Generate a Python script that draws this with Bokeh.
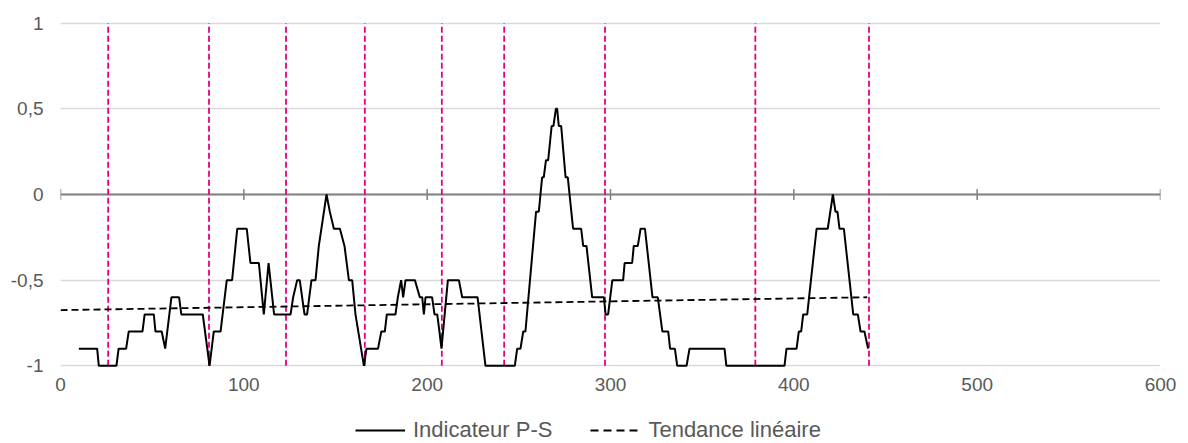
import numpy as np
from bokeh.plotting import figure
from bokeh.layouts import column
from bokeh.models import (Span, Legend, LegendItem, CustomJSTickFormatter,
                          FixedTicker, Range1d)
from bokeh.embed import file_html
from bokeh.resources import INLINE

# --- data ---
ps_x = [10, 20, 20.9, 30.5, 31.7, 35.8, 37.2, 44.7, 45.9, 50.9, 51.8, 55.2, 57.1,
        60.5, 64.7, 65.9, 77.6, 81.3, 83.6, 87.3, 90.7, 93.6, 96.4, 101.6, 103.6,
        108.2, 110.9, 113.5, 116.5, 125.5, 126.9, 129.1, 130.5, 133.1, 134.5,
        136.9, 139.1, 140.9, 145.1, 146.9, 149.1, 152.4, 154.9, 157.3, 159.1,
        160.9, 165.5, 166.9, 173.2, 175.0, 176.9, 178.0, 182.7, 184.0, 185.8,
        186.9, 188.2, 193.3, 196.0, 197.3, 198.2, 199.1, 202.7, 204.0, 205.5,
        206.7, 207.8, 211.3, 217.3, 219.1, 227.5, 231.8, 247.8, 249.1, 250.9,
        252.4, 253.6, 259.4, 260.9, 262.7, 263.6, 264.8, 266.0, 267.9, 268.9,
        270.2, 270.9, 271.8, 273.1, 275.5, 276.7, 279.6, 284.0, 285.1, 286.9,
        290.0, 296.4, 297.3, 298.7, 301.0, 306.9, 307.7, 311.8, 312.7, 314.9,
        316.4, 318.8, 322.9, 325.8, 328.3, 331.5, 332.5, 335.1, 336.4, 341.5,
        343.1, 362.2, 363.2, 394.9, 396.0, 401.5, 402.7, 404.0, 405.1, 407.3,
        412.4, 418.5, 421.3, 422.7, 423.8, 424.9, 427.3, 432.4, 434.9, 436.4,
        438.5, 440.5]
ps_y = [-0.9, -0.9, -1.0, -1.0, -0.9, -0.9, -0.8, -0.8, -0.7, -0.7, -0.8, -0.8, -0.9,
        -0.6, -0.6, -0.7, -0.7, -1.0, -0.8, -0.8, -0.5, -0.5, -0.2, -0.2, -0.4,
        -0.4, -0.7, -0.4, -0.7, -0.7, -0.6, -0.5, -0.5, -0.7, -0.7,
        -0.5, -0.5, -0.3, 0.0, -0.1, -0.2, -0.2, -0.3, -0.5, -0.5,
        -0.7, -1.0, -0.9, -0.9, -0.8, -0.8, -0.7, -0.7, -0.6, -0.5,
        -0.6, -0.5, -0.5, -0.6, -0.6, -0.7, -0.6, -0.6, -0.7, -0.7,
        -0.8, -0.9, -0.5, -0.5, -0.6, -0.6, -1.0, -1.0, -0.9, -0.9,
        -0.8, -0.8, -0.1, -0.1, 0.1, 0.1, 0.2, 0.2, 0.4, 0.4,
        0.5, 0.5, 0.4, 0.4, 0.1, 0.1, -0.2, -0.2, -0.3, -0.3,
        -0.6, -0.6, -0.7, -0.7, -0.5, -0.5, -0.4, -0.4, -0.3, -0.3,
        -0.2, -0.2, -0.6, -0.6, -0.8, -0.8, -0.9, -0.9, -1.0, -1.0,
        -0.9, -0.9, -1.0, -1.0, -0.9, -0.9, -0.8, -0.8, -0.7, -0.7,
        -0.2, -0.2, 0.0, -0.1, -0.1, -0.2, -0.2, -0.7, -0.7, -0.8,
        -0.8, -0.9]
trend_x = [0, 440]
trend_y = [-0.675, -0.60]
boundaries = [26, 81, 123, 166, 208, 242, 297, 379, 441]
x_ticks = [0, 100, 200, 300, 400, 500, 600]
y_ticks = [-1, -0.5, 0, 0.5, 1]
series_names = ["Indicateur P-S", "Tendance linéaire"]

FONT = "Liberation Sans"
TXT = "#595959"
W = 1182

p = figure(width=W, height=406,
           x_range=Range1d(x_ticks[0], x_ticks[-1]),
           y_range=Range1d(-1.01, 1.01),
           output_backend="svg", toolbar_location=None,
           min_border_left=60, min_border_right=22,
           min_border_top=21, min_border_bottom=39)
p.outline_line_color = None
p.background_fill_color = "white"

# grid
p.xgrid.grid_line_color = None
p.ygrid.ticker = FixedTicker(ticks=y_ticks)
p.ygrid.grid_line_color = "#d9d9d9"
p.ygrid.grid_line_width = 1.5

# zero axis line with ticks
p.add_layout(Span(location=0, dimension="width", line_color="#808080",
                  line_width=2, level="underlay"))
p.scatter(x=x_ticks, y=[0] * len(x_ticks), marker="dash", angle=np.pi / 2,
          size=11, line_color="#808080", line_width=1.5)

# axes
p.xaxis.ticker = FixedTicker(ticks=x_ticks)
p.xaxis.axis_line_color = None
p.xaxis.major_tick_line_color = None
p.xaxis.major_tick_out = 0
p.xaxis.major_tick_in = 0
p.xaxis.minor_tick_line_color = None
p.xaxis.major_label_text_font = FONT
p.xaxis.major_label_text_font_size = "19px"
p.xaxis.major_label_text_color = TXT
p.xaxis.major_label_standoff = 10

p.yaxis.ticker = FixedTicker(ticks=y_ticks)
p.yaxis.formatter = CustomJSTickFormatter(code="return tick.toString().replace('.', ',');")
p.yaxis.axis_line_color = None
p.yaxis.major_tick_line_color = None
p.yaxis.major_tick_out = 0
p.yaxis.major_tick_in = 0
p.yaxis.minor_tick_line_color = None
p.yaxis.major_label_text_font = FONT
p.yaxis.major_label_text_font_size = "19px"
p.yaxis.major_label_text_color = TXT
p.yaxis.major_label_standoff = 17

# pink boundaries
p.segment(x0=boundaries, y0=[y_ticks[0]] * len(boundaries),
          x1=boundaries, y1=[y_ticks[-1]] * len(boundaries),
          line_color="#e6007e", line_width=1.8, line_dash="6 3")

p.line(trend_x, trend_y, line_color="black", line_width=1.8, line_dash="7 4")
p.line(ps_x, ps_y, line_color="black", line_width=2)

# legend strip (separate figure beneath the chart); its copies of the series
# lie outside its visible range so only the legend shows
lg = figure(width=W, height=37, output_backend="svg", toolbar_location=None,
            x_range=Range1d(-3, -2), y_range=Range1d(-1, 1),
            x_axis_location=None, y_axis_location=None,
            min_border_left=0, min_border_right=0, min_border_top=0, min_border_bottom=0)
lg.outline_line_color = None
lg.grid.grid_line_color = None
r_main = lg.line(ps_x, ps_y, line_color="black", line_width=2)
r_trend = lg.line(trend_x, trend_y, line_color="black", line_width=2, line_dash="8 5")
legend = Legend(items=[LegendItem(label=series_names[0], renderers=[r_main]),
                       LegendItem(label=series_names[1], renderers=[r_trend])],
                orientation="horizontal", location=(295, 0),
                border_line_color=None, background_fill_alpha=0,
                label_text_font=FONT, label_text_font_size="22px",
                label_text_color=TXT, glyph_width=50, label_standoff=8,
                spacing=38, padding=0, margin=0)
lg.add_layout(legend, "center")

layout = column(p, lg, spacing=0)
open("out.html", "w").write(file_html(layout, INLINE))
